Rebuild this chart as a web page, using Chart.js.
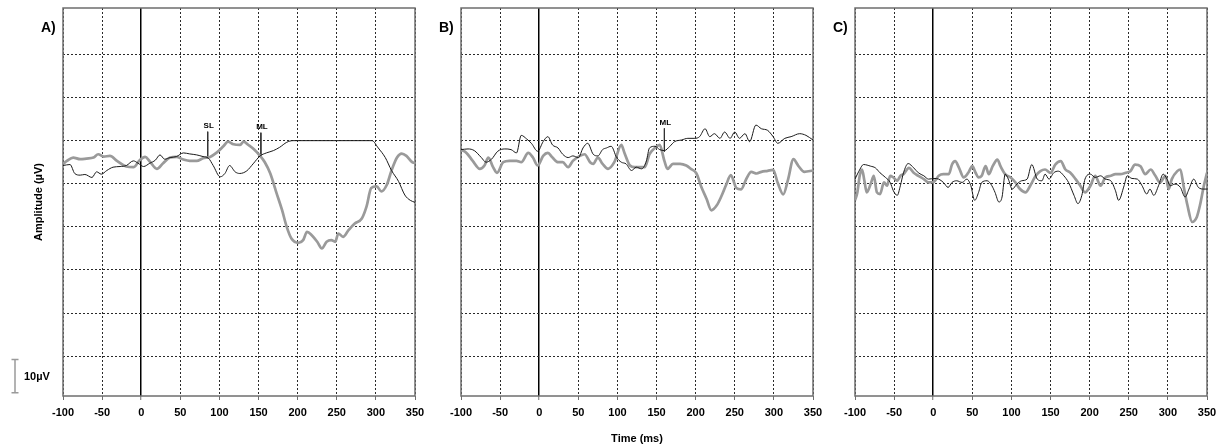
<!DOCTYPE html>
<html>
<head>
<meta charset="utf-8">
<script src="https://cdn.jsdelivr.net/npm/chart.js@4.4.1/dist/chart.umd.min.js"></script>
<style>
  body { margin: 0; background: #fff; }
  #wrap { position: relative; width: 1227px; height: 448px; }
  .panel { position: absolute; top: 0; height: 448px; }
</style>
</head>
<body>
<div id="wrap">
  <div class="panel" style="left:0;width:440px"><canvas id="chartA" width="440" height="448"></canvas></div>
  <div class="panel" style="left:420px;width:420px"><canvas id="chartB" width="420" height="448"></canvas></div>
  <div class="panel" style="left:820px;width:407px"><canvas id="chartC" width="407" height="448"></canvas></div>
</div>
<script>
Chart.defaults.font.family = "'Liberation Sans', Arial, sans-serif";
Chart.defaults.font.weight = 'bold';
Chart.defaults.font.size = 11;
Chart.defaults.color = '#000';

// axes
const timeTicks = [-100, -50, 0, 50, 100, 150, 200, 250, 300, 350];
const ampTicks = [26, 13, 0, -13, -26, -39, -52, -65];
const ampMin = -77, ampMax = 40;

// panel A
const aBlackT = [-100,-91,-85,-78,-72,-63,-57,-51,-44,-36,-27,-19,-10,-4,3,11,18,24,30,37,45,54,62,71,79,86,92,101,107,113,120,126,135,143,152,160,169,177,186,194,295,303,312,320,329,337,344,350];
const aBlackV = [-7.5,-7.2,-9.9,-10.4,-10.2,-11.1,-9.4,-10.1,-9.0,-8.0,-7.8,-7.5,-6.1,-6.8,-7.8,-6.8,-5.9,-4.3,-5.6,-5.1,-4.8,-3.7,-4.0,-4.3,-4.8,-5.3,-7.5,-10.9,-9.9,-7.5,-9.4,-9.9,-9.1,-7.0,-4.6,-3.7,-3.0,-2.0,-0.5,0,0,-2.2,-5.1,-9.0,-12.3,-16.4,-18.0,-18.6];
const aGrayT = [-100,-95,-87,-78,-70,-61,-55,-48,-40,-31,-19,-10,-2,5,11,20,28,37,45,54,62,71,79,88,96,105,111,118,126,131,137,143,152,158,165,173,180,186,192,201,207,212,218,225,231,237,243,248,252,258,265,273,282,288,294,301,307,314,320,327,333,339,346,350];
const aGrayV = [-7.0,-6.1,-5.1,-5.6,-5.4,-5.1,-4.1,-4.8,-4.6,-6.1,-7.8,-8.0,-5.9,-4.9,-6.3,-8.5,-6.8,-5.1,-4.9,-5.7,-6.1,-6.1,-5.3,-4.9,-3.7,-1.7,-0.3,-1.1,-1.3,-0.3,-1.3,-2.4,-4.6,-6.5,-9.9,-15.8,-20.9,-26,-29.5,-30.8,-30.0,-27.5,-28.5,-30.5,-32.5,-30.5,-30.0,-30.5,-28.0,-29.0,-27.0,-25.0,-23.5,-19.9,-14.3,-13.8,-15.3,-13.3,-9.0,-5.1,-3.9,-4.6,-6.4,-6.8];
const aMarkNames = ['SL', 'ML'];
const aMarkT = [85, 153];
const aMarkTop = [2.7, 2.4];
const aMarkBottom = [-5.5, -4.6];

// panel B
const bBlackT = [-100,-91,-83,-74,-68,-61,-53,-44,-36,-29,-23,-16,-10,-2,5,11,17,24,30,37,43,50,56,62,69,75,81,86,92,99,105,111,118,124,131,137,141,148,154,160,167,173,182,190,199,205,212,218,224,231,237,244,250,256,263,269,277,284,292,299,305,314,322,333,341,350];
const bBlackV = [-2.7,-2.5,-3.0,-5.1,-6.5,-5.6,-3.2,-2.5,-2.7,-3.7,1.6,0.5,-0.8,-3.2,-0.3,1.2,-1.3,-2.2,-4.1,-5.1,-4.6,-5.1,-2.2,-0.8,-4.1,-4.6,-2.7,-2.2,-1.7,-5.1,-6.5,-7.0,-9.0,-8.0,-8.5,-6.1,-2.2,-1.7,-2.7,-3.0,-1.7,-0.3,0.2,0.7,0.7,1.2,3.6,1.2,2.1,0.7,2.6,0.7,2.6,0.7,2.1,-0.3,4.7,3.6,3.1,1.2,-0.8,0.7,1.2,2.1,1.6,0.2];
const bGrayT = [-100,-93,-85,-76,-70,-65,-59,-54,-46,-38,-29,-23,-14,-8,-2,5,11,17,24,30,37,43,52,58,65,69,75,81,88,96,105,109,116,122,128,135,141,148,154,160,164,171,180,188,194,201,207,214,220,227,233,239,245,252,258,265,271,278,284,292,299,305,312,318,325,331,339,350];
const bGrayV = [-2.7,-3.7,-6.1,-8.5,-7.5,-5.1,-8.0,-9.7,-6.5,-6.1,-6.1,-6.5,-3.7,-5.1,-7.5,-4.6,-3.7,-5.1,-6.5,-6.5,-8.0,-6.1,-4.6,-4.1,-6.5,-7.0,-5.1,-7.0,-8.5,-6.5,-1.3,-3.7,-7.5,-8.0,-8.0,-8.0,-4.1,-2.2,-1.3,-6.1,-8.5,-7.0,-7.0,-7.5,-8.5,-9.9,-13.8,-17.6,-21.0,-19.5,-16.7,-13.3,-10.4,-14.3,-14.7,-11.4,-9.4,-9.9,-9.4,-9.1,-8.8,-12.8,-16.2,-11.8,-5.6,-7.5,-9.4,-9.0];
const bMarkNames = ['ML'];
const bMarkT = [160];
const bMarkTop = [3.7];
const bMarkBottom = [-3.3];

// panel C
const cBlackT = [-100,-95,-89,-80,-74,-68,-61,-55,-51,-46,-42,-38,-32,-25,-19,-12,-6,1,7,13,19,24,30,37,43,48,53,58,62,69,75,79,84,88,92,96,101,107,113,120,126,133,139,143,148,154,160,167,173,180,185,190,194,201,207,214,220,227,233,237,244,248,254,261,267,273,277,282,288,294,299,303,309,316,322,327,333,339,346,350];
const cBlackV = [-11.6,-9.2,-7.2,-7.7,-8.2,-9.7,-11.1,-12.6,-15.1,-16.5,-13.6,-9.7,-6.9,-8.2,-9.7,-10.6,-11.6,-11.4,-11.6,-12.6,-14.1,-12.6,-12.1,-12.6,-11.6,-13.5,-18.0,-15.6,-12.6,-12.1,-13.6,-15.6,-18.5,-17.0,-10.1,-11.6,-14.6,-13.1,-12.1,-11.6,-7.2,-11.6,-12.1,-10.1,-11.6,-9.7,-9.2,-10.6,-12.6,-16.5,-19.0,-16.5,-11.6,-10.1,-11.1,-10.6,-11.6,-12.1,-15.1,-18.0,-13.6,-10.6,-11.4,-11.6,-13.6,-16.1,-14.6,-16.5,-13.6,-10.1,-11.6,-13.6,-13.1,-14.1,-17.0,-14.6,-11.6,-14.1,-14.6,-14.6];
const cGrayT = [-100,-97,-94,-91,-88,-85,-80,-76,-72,-68,-63,-59,-55,-51,-46,-42,-38,-31,-25,-19,-12,-6,1,7,13,20,24,28,33,39,45,50,54,58,62,67,71,76,82,86,92,99,105,111,118,124,131,137,143,150,156,163,169,175,182,188,194,201,207,214,220,227,233,239,246,252,258,265,271,278,284,290,297,301,305,312,316,320,325,331,337,341,346,350];
const cGrayV = [-18.0,-15.6,-10.6,-8.7,-12.1,-15.6,-13.1,-10.6,-15.6,-16.1,-12.6,-13.6,-10.6,-11.1,-12.1,-10.6,-10.1,-8.2,-9.7,-10.6,-11.6,-12.6,-12.4,-10.6,-10.1,-10.1,-7.2,-6.2,-8.2,-11.1,-9.6,-7.7,-9.6,-11.1,-10.6,-7.7,-10.1,-7.7,-5.7,-7.7,-10.1,-11.1,-12.6,-14.6,-15.6,-13.6,-10.6,-9.2,-8.7,-9.7,-7.2,-6.2,-8.7,-9.6,-11.6,-13.6,-15.6,-13.6,-10.6,-13.6,-11.1,-10.6,-10.1,-10.1,-9.7,-9.2,-7.2,-7.7,-10.1,-8.7,-10.6,-12.6,-10.6,-14.6,-11.6,-9.2,-8.7,-13.6,-19.5,-24.5,-23.0,-19.5,-13.6,-9.7];

const pts = (t, v) => t.map((x, i) => ({x: x, y: v[i]}));

const traceSets = (blackT, blackV, grayT, grayV) => [
  {data: pts(blackT, blackV), borderColor: '#1a1a1a', borderWidth: 1},
  {data: pts(grayT, grayV), borderColor: '#9a9a9a', borderWidth: 2.7}
];

const markerSets = (names, t, top, bottom) => names.map((n, i) => ({
  data: [{x: t[i], y: top[i]}, {x: t[i], y: bottom[i]}],
  borderColor: '#333', borderWidth: 1, markLabel: n, cubicInterpolationMode: 'default', tension: 0
}));

const decor = {
  id: 'decor',
  beforeDatasetsDraw(chart) {
    const {ctx, chartArea: a} = chart;
    ctx.save();
    ctx.strokeStyle = '#6e6e6e';
    ctx.lineWidth = 1.5;
    ctx.strokeRect(a.left, a.top, a.right - a.left, a.bottom - a.top);
    ctx.restore();
  },
  afterDraw(chart, args, opts) {
    const {ctx, chartArea: a, scales} = chart;
    ctx.save();
    ctx.fillStyle = '#000';
    ctx.textBaseline = 'middle';
    ctx.font = "bold 14px 'Liberation Sans', Arial, sans-serif";
    ctx.textAlign = 'left';
    ctx.fillText(opts.label, a.left - 22, 28);

    ctx.font = "bold 8px 'Liberation Sans', Arial, sans-serif";
    ctx.textAlign = 'center';
    chart.data.datasets.forEach((ds, i) => {
      if (!ds.markLabel) return;
      const p = chart.getDatasetMeta(i).data[0];
      ctx.fillText(ds.markLabel, p.x + 1, p.y - 6);
    });

    if (opts.scaleBar) {
      const sb = opts.scaleBar;
      const y0 = scales.y.getPixelForValue(sb.base);
      const y1 = scales.y.getPixelForValue(sb.base + sb.value);
      ctx.strokeStyle = '#9a9a9a';
      ctx.lineWidth = 1.5;
      ctx.beginPath();
      ctx.moveTo(sb.x, y0); ctx.lineTo(sb.x, y1);
      ctx.moveTo(sb.x - 3.5, y0); ctx.lineTo(sb.x + 3.5, y0);
      ctx.moveTo(sb.x - 3.5, y1); ctx.lineTo(sb.x + 3.5, y1);
      ctx.stroke();
      ctx.font = "bold 11px 'Liberation Sans', Arial, sans-serif";
      ctx.textAlign = 'left';
      ctx.fillText(sb.value + 'µV', sb.x + 9, (y0 + y1) / 2 + 1);
    }
    ctx.restore();
  }
};

const isZero = c => c.tick && c.tick.value === 0;

function makePanel(id, label, datasets, yWidth, rightPad, yTitle, xTitle, scaleBar) {
  return new Chart(document.getElementById(id), {
    type: 'line',
    data: {datasets: datasets},
    plugins: [decor],
    options: {
      responsive: false,
      animation: false,
      events: [],
      layout: {padding: {top: 8, right: rightPad, left: 0, bottom: 0}},
      elements: {
        point: {radius: 0},
        line: {cubicInterpolationMode: 'monotone', fill: false}
      },
      plugins: {
        legend: {display: false},
        tooltip: {enabled: false},
        decor: {label: label, scaleBar: scaleBar}
      },
      scales: {
        x: {
          type: 'linear',
          min: -100,
          max: 350,
          afterBuildTicks: s => { s.ticks = timeTicks.map(v => ({value: v})); },
          afterFit: s => { s.height = 52; },
          ticks: {autoSkip: false, maxRotation: 0, padding: 6, color: '#000', font: {size: 11, weight: 'bold'}},
          grid: {
            color: c => isZero(c) ? '#000' : '#2a2a2a',
            lineWidth: c => isZero(c) ? 1.5 : 1,
            tickColor: '#6e6e6e', tickWidth: 1, tickLength: 4, tickBorderDash: []
          },
          border: {display: false, dash: c => isZero(c) ? [] : [2, 2]},
          title: {display: !!xTitle, text: xTitle || '', font: {size: 11, weight: 'bold'}, padding: {top: 0, bottom: 2}}
        },
        y: {
          type: 'linear',
          min: ampMin,
          max: ampMax,
          afterBuildTicks: s => { s.ticks = ampTicks.map(v => ({value: v})); },
          afterFit: s => { s.width = yWidth; },
          ticks: {display: false},
          grid: {color: '#2a2a2a', lineWidth: 1, drawTicks: false},
          border: {display: false, dash: [2, 2]},
          title: {display: !!yTitle, text: yTitle || '', font: {size: 11, weight: 'bold'}, padding: {top: 32.4, bottom: 0}}
        }
      }
    }
  });
}

makePanel('chartA', 'A)',
  traceSets(aBlackT, aBlackV, aGrayT, aGrayV).concat(markerSets(aMarkNames, aMarkT, aMarkTop, aMarkBottom)),
  63, 25, 'Amplitude (µV)', null, {value: 10, base: -76, x: 15});
makePanel('chartB', 'B)',
  traceSets(bBlackT, bBlackV, bGrayT, bGrayV).concat(markerSets(bMarkNames, bMarkT, bMarkTop, bMarkBottom)),
  41, 27, null, 'Time (ms)', null);
makePanel('chartC', 'C)',
  traceSets(cBlackT, cBlackV, cGrayT, cGrayV),
  35, 20, null, null, null);
</script>
</body>
</html>
